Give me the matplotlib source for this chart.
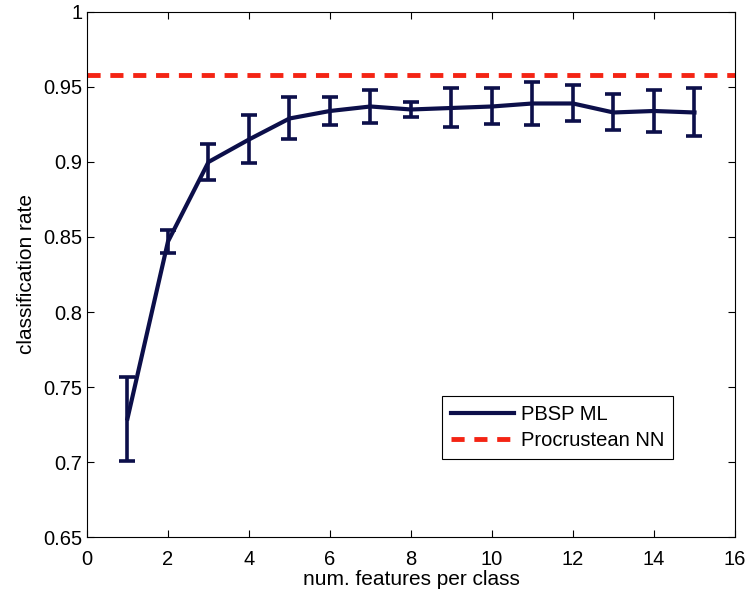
import matplotlib
matplotlib.use("Agg")
import matplotlib.pyplot as plt
from matplotlib.lines import Line2D

# values
num_features = [1, 2, 3, 4, 5, 6, 7, 8, 9, 10, 11, 12, 13, 14, 15]
rate_mean = [0.729, 0.847, 0.900, 0.915, 0.929, 0.934, 0.937, 0.935, 0.936,
             0.937, 0.939, 0.939, 0.933, 0.934, 0.933]
rate_err = [0.028, 0.0075, 0.012, 0.016, 0.014, 0.0095, 0.011, 0.005, 0.013,
            0.012, 0.0145, 0.012, 0.012, 0.014, 0.016]
procrustean_rate = 0.958

x_ticks = [0, 2, 4, 6, 8, 10, 12, 14, 16]
y_ticks = [0.65, 0.7, 0.75, 0.8, 0.85, 0.9, 0.95, 1]
y_tick_labels = ['0.65', '0.7', '0.75', '0.8', '0.85', '0.9', '0.95', '1']

plt.rcParams['font.family'] = ['Liberation Sans', 'DejaVu Sans']

fig = plt.figure(figsize=(7.48, 5.90), dpi=100)
ax = fig.add_axes([0.1163, 0.0898, 0.8663, 0.8899])

navy = '#0c0f4a'
red = '#f42414'

# PBSP ML with error bars
ax.errorbar(num_features, rate_mean, yerr=rate_err, color=navy, lw=3,
            elinewidth=2.6, capsize=5.5, capthick=2.6)

# Procrustean NN baseline
ax.axhline(procrustean_rate, color=red, lw=3.5, dashes=(2.7, 2.0))

ax.set_xlim(0, 16)
ax.set_ylim(0.65, 1)
ax.set_xticks(x_ticks)
ax.set_yticks(y_ticks)
ax.set_yticklabels(y_tick_labels)
ax.tick_params(direction='in', top=True, right=True, labelsize=14.5,
               length=5, width=0.8)
ax.tick_params(axis='x', pad=9)
ax.set_xlabel('num. features per class', fontsize=15, labelpad=1)
ax.set_ylabel('classification rate', fontsize=15, labelpad=5)

# legend with plain line handles, like the original
handles = [Line2D([], [], color=navy, lw=3),
           Line2D([], [], color=red, lw=3.5, dashes=(2.7, 2.0))]
leg = ax.legend(handles, ['PBSP ML', 'Procrustean NN'], loc='upper left',
                bbox_to_anchor=(0.548, 0.268), fontsize=14.5,
                fancybox=False, framealpha=1, edgecolor='black',
                handlelength=3.1, borderpad=0.45, labelspacing=0.35,
                handletextpad=0.35, borderaxespad=0)
leg.get_frame().set_linewidth(0.8)

fig.savefig('out.png', dpi=100)
